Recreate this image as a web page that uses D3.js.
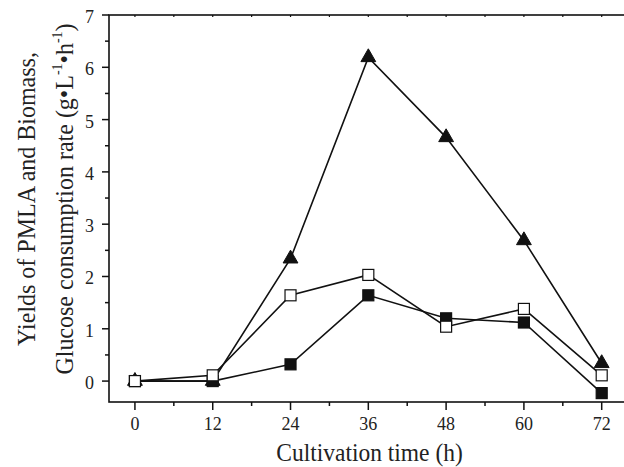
<!DOCTYPE html>
<html><head><meta charset="utf-8">
<script src="https://cdn.jsdelivr.net/npm/d3@7"></script>
<style>html,body{margin:0;padding:0;background:#fff;}svg{display:block;}</style>
</head><body>
<svg id="c" width="624" height="467"></svg>
<script>
const hours = [0, 12, 24, 36, 48, 60, 72];
const triangleSeries = [0, 0, 2.34, 6.19, 4.66, 2.69, 0.34];
const openSquareSeries = [0, 0.11, 1.64, 2.03, 1.04, 1.38, 0.11];
const filledSquareSeries = [0, 0, 0.32, 1.64, 1.2, 1.12, -0.23];
const xTickLabels = ["0", "12", "24", "36", "48", "60", "72"];
const yTickLabels = ["0", "1", "2", "3", "4", "5", "6", "7"];

const svg = d3.select("#c");
const font = "'Liberation Serif','Times New Roman',serif";
const L = 109, T = 15, B = 402, R = 640.6;
const x = d3.scaleLinear().domain([-4, 78]).range([L, R]);
const y = d3.scaleLinear().domain([-0.4, 7]).range([B, T]);
const VS = 1.1;

// frame
svg.append("rect").attr("x", L).attr("y", T).attr("width", R - L).attr("height", B - T)
  .attr("fill", "none").attr("stroke", "#111").attr("stroke-width", 1.6);

// x axis bottom
const xMinor = d3.range(0, 79, 6);
const gx = svg.append("g").attr("transform", `translate(0,${B})`);
gx.selectAll("line.mi").data(xMinor.filter(d => d % 12 !== 0)).join("line")
  .attr("x1", d => x(d)).attr("x2", d => x(d)).attr("y1", 0).attr("y2", 4)
  .attr("stroke", "#111").attr("stroke-width", 1.5);
gx.selectAll("line.ma").data(hours).join("line")
  .attr("x1", d => x(d)).attr("x2", d => x(d)).attr("y1", 0).attr("y2", 8)
  .attr("stroke", "#111").attr("stroke-width", 1.5);
gx.selectAll("text").data(hours).join("text")
  .attr("transform", d => `translate(${x(d)},28) scale(1,${VS})`)
  .attr("text-anchor", "middle")
  .attr("font-family", font).attr("font-size", 18).attr("fill", "#222")
  .text((d, i) => xTickLabels[i]);
// top tiny ticks
svg.append("g").selectAll("line").data(xMinor).join("line")
  .attr("x1", d => x(d)).attr("x2", d => x(d)).attr("y1", T).attr("y2", T + 2)
  .attr("stroke", "#111").attr("stroke-width", 1.2);

// y axis
const yMajor = d3.range(0, 8, 1);
const yMinor = d3.range(0.5, 7, 1);
const gy = svg.append("g").attr("transform", `translate(${L},0)`);
gy.selectAll("line.mi").data(yMinor).join("line")
  .attr("x1", -4).attr("x2", 0).attr("y1", d => y(d)).attr("y2", d => y(d))
  .attr("stroke", "#111").attr("stroke-width", 1.5);
gy.selectAll("line.ma").data(yMajor).join("line")
  .attr("x1", -7).attr("x2", 0).attr("y1", d => y(d)).attr("y2", d => y(d))
  .attr("stroke", "#111").attr("stroke-width", 1.5);
gy.selectAll("text").data(yMajor).join("text")
  .attr("transform", d => `translate(-15,${y(d) + 8}) scale(1,${VS})`)
  .attr("text-anchor", "end")
  .attr("font-family", font).attr("font-size", 18).attr("fill", "#222")
  .text((d, i) => yTickLabels[i]);

// axis titles
svg.append("text").attr("transform", `translate(369.5,461) scale(1,${VS})`).attr("text-anchor", "middle")
  .attr("font-family", font).attr("font-size", 23.5).attr("fill", "#222")
  .text("Cultivation time (h)");

const yt = svg.append("g").attr("transform", "translate(0,199) rotate(-90)")
  .attr("font-family", font).attr("font-size", 24).attr("fill", "#222");
yt.append("text").attr("transform", `translate(0,35) scale(1,1.06)`).attr("text-anchor", "middle")
  .text("Yields of PMLA and Biomass,");
const t2 = yt.append("text").attr("transform", `translate(0,73) scale(1,1.06)`).attr("text-anchor", "middle");
t2.append("tspan").text("Glucose consumption rate (g•L");
t2.append("tspan").attr("font-size", 14).attr("dy", -10).text("-1");
t2.append("tspan").attr("dy", 10).text("•h");
t2.append("tspan").attr("font-size", 14).attr("dy", -10).text("-1");
t2.append("tspan").attr("dy", 10).text(")");

// series (drawing order: filled squares, triangles, open squares on top)
const line = d3.line().x(d => x(d[0])).y(d => y(d[1]));
const series = [
  { vals: filledSquareSeries, type: "sq", fill: "#111" },
  { vals: triangleSeries, type: "tri", fill: "#111" },
  { vals: openSquareSeries, type: "sq", fill: "#fff" }
];
series.forEach(s => {
  svg.append("path").datum(hours.map((h, i) => [h, s.vals[i]]))
    .attr("d", line).attr("fill", "none").attr("stroke", "#111").attr("stroke-width", 1.6);
});
series.forEach(s => {
  const pts = hours.map((h, i) => [h, s.vals[i]]);
  if (s.type === "sq") {
    svg.append("g").selectAll("rect").data(pts).join("rect")
      .attr("x", d => x(d[0]) - 5.5).attr("y", d => y(d[1]) - 5.5)
      .attr("width", 11).attr("height", 11)
      .attr("fill", s.fill).attr("stroke", "#111").attr("stroke-width", 1.2);
  } else {
    const sym = d3.symbol().type(d3.symbolTriangle).size(95);
    svg.append("g").selectAll("path").data(pts).join("path")
      .attr("transform", d => `translate(${x(d[0])},${y(d[1])})`)
      .attr("d", sym()).attr("fill", s.fill).attr("stroke", "#111").attr("stroke-width", 1);
  }
});
</script>
</body></html>
